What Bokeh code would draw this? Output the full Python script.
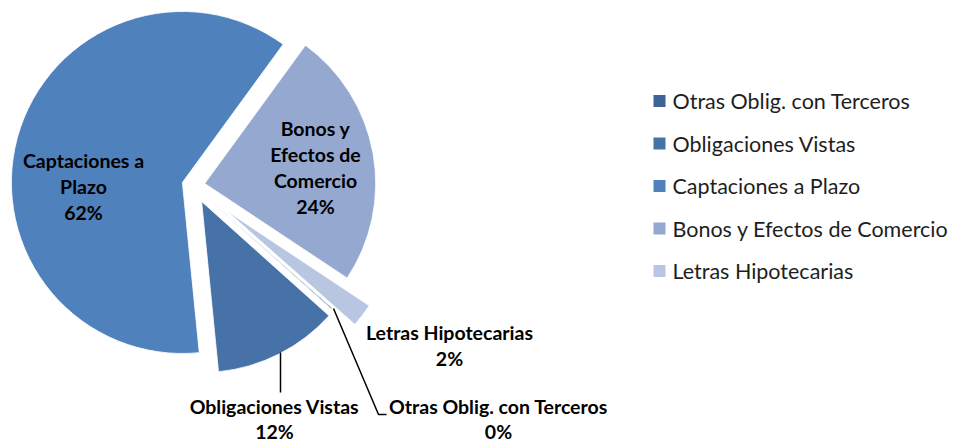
import math
from bokeh.plotting import figure
from bokeh.models import Range1d, ColumnDataSource
from bokeh.core.properties import value
from bokeh.embed import file_html
from bokeh.resources import INLINE

# ---------------- data ----------------
categories = ["Otras Oblig. con Terceros", "Obligaciones Vistas", "Captaciones a Plazo",
              "Bonos y Efectos de Comercio", "Letras Hipotecarias"]
values = [0.1, 11.8, 61.6, 24.3, 2.2]

# ---------------- style / layout ----------------
colors = ["#3D6398", "#4672A8", "#4F81BD", "#94A8D0", "#B8C6E2"]
explode = [14, 18, 11.5, 11.4, 42]          # px offset of each slice
label_lines = [["Otras Oblig. con Terceros"], ["Obligaciones Vistas"], ["Captaciones a", "Plazo"],
               ["Bonos y", "Efectos de", "Comercio"], ["Letras Hipotecarias"]]
# label anchor (screen px): centre x, centre y of first line, line height
label_pos = [(498, 406, 24.5), (274, 406, 24.5), (83, 160, 26), (315, 128, 26), (449, 332, 26)]
START = 131.5            # clockwise from 12 o'clock, degrees
CX, CY_S, R = 193, 185, 171
FONT = "Lato"

W, H = 957, 443
def sy(y):
    return H - y

p = figure(width=W, height=H, x_range=Range1d(0, W), y_range=Range1d(0, H),
           output_backend="svg", toolbar_location=None,
           x_axis_location=None, y_axis_location=None, min_border=0)
p.grid.visible = False
p.outline_line_color = None
p.background_fill_color = "white"

total = sum(values)
xs, ys, sa, ea = [], [], [], []
cum = 0.0
for v, d in zip(values, explode):
    ta = START + 360.0 * cum / total
    tb = ta + 360.0 * v / total
    cum += v
    a_start = math.radians(90 - tb)
    a_end = math.radians(90 - ta)
    mid = (a_start + a_end) / 2
    xs.append(CX + d * math.cos(mid))
    ys.append(sy(CY_S) + d * math.sin(mid))
    sa.append(a_start)
    ea.append(a_end)

src = ColumnDataSource(dict(x=xs, y=ys, start=sa, end=ea, color=colors, cat=categories))
p.wedge(x="x", y="y", radius=R, start_angle="start", end_angle="end", direction="anticlock",
        fill_color="color", line_color="white", line_width=0.8, source=src)

# leader lines
p.line([280, 280], [sy(352), sy(392)], line_color="black", line_width=1.5)
p.line([333, 378, 386], [sy(308), sy(414), sy(414)], line_color="black", line_width=1.5)

# data labels
tx, ty, tt = [], [], []
for v, lines, (lx, ly, lh) in zip(values, label_lines, label_pos):
    allines = lines + ["%d%%" % round(100.0 * v / total)]
    for i, t in enumerate(allines):
        tx.append(lx)
        ty.append(sy(ly + i * lh))
        tt.append(t)
p.text(x=tx, y=ty, text=tt, text_font=value(FONT), text_font_style="bold",
       text_font_size="19.5px", text_align="center", text_baseline="middle", text_color="black")

# legend
LEG_X, LEG_Y0, LEG_DY = 659, 100.5, 42.5
lx = [LEG_X] * len(categories)
ly = [sy(LEG_Y0 + i * LEG_DY) for i in range(len(categories))]
p.scatter(x=lx, y=ly, marker="square", size=12, fill_color=colors, line_color=None)
p.text(x=[LEG_X + 13] * len(categories), y=ly, text=categories, text_font=value(FONT),
       text_font_size="21.5px", text_align="left", text_baseline="middle", text_color="#1e1e1e")

open("out.html", "w").write(file_html(p, INLINE))
